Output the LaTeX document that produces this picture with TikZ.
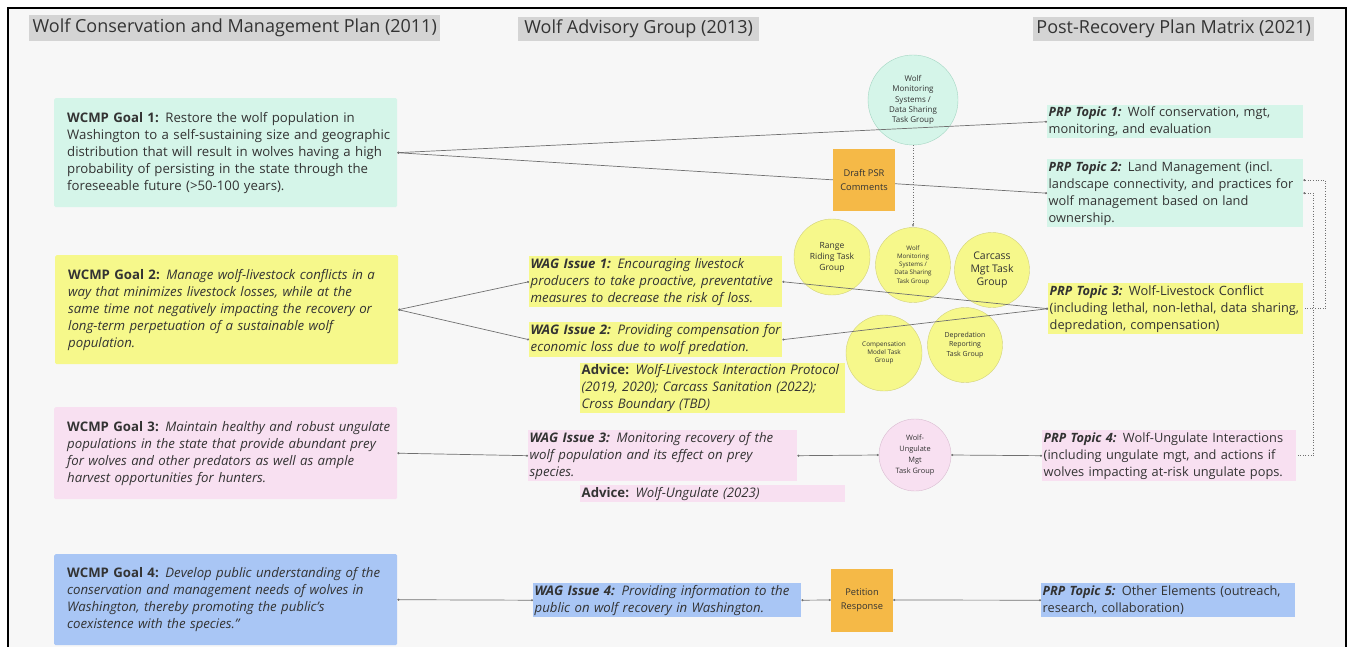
\documentclass[tikz,border=0pt]{standalone}
\usepackage{fontspec}
\setmainfont{Open Sans}
\usepackage{xcolor}
\usetikzlibrary{
	positioning,       %relative placement
	arrows.meta,       %arrow tips
	shapes.geometric
}
\definecolor{paper}{HTML}{F7F7F7}
\definecolor{hdrgray}{HTML}{D4D4D4}
\definecolor{mint}{HTML}{D5F5E9}
\definecolor{mintline}{HTML}{A3D6C2}
\definecolor{lemon}{HTML}{F6F88B}
\definecolor{lemonline}{HTML}{D2D27A}
\definecolor{blush}{HTML}{F8E0F1}
\definecolor{blushline}{HTML}{D9BCD1}
\definecolor{sky}{HTML}{A9C6F5}
\definecolor{amber}{HTML}{F5B947}
\definecolor{ink}{HTML}{333333}
\definecolor{wire}{HTML}{707070}
\tikzset{
	every picture/.style={
		>=latex,
		node distance=5mm and 5mm
}}
\newcommand{\bodyfont}{\fontsize{13.2}{17}\selectfont}
\newcommand{\topicfont}{\fontsize{12.8}{17}\selectfont}

\begin{document}
\begin{tikzpicture}[x=1pt,y=-1pt]
\tikzstyle{title}=[fill=hdrgray, text=ink, font=\fontsize{18}{20}\selectfont, inner sep=0pt, anchor=north west]
\tikzstyle{goal}=[rectangle, rounded corners=1.5pt, text=ink, anchor=north west, align=left, inner sep=0pt, text width=343pt, font=\bodyfont, execute at begin node={\leftskip=13pt\relax}]
\tikzstyle{hl}=[rectangle, text=ink, anchor=north west, align=left, inner sep=0pt, font=\bodyfont, execute at begin node={\leftskip=1.5pt\relax}]
\tikzstyle{slant}=[font=\bodyfont\itshape]
\tikzstyle{topic}=[hl, font=\topicfont]
\tikzstyle{tgroup}=[circle, fill=lemon, draw=lemonline, text=ink, align=center, inner sep=0pt]
\tikzstyle{action}=[rectangle, fill=amber, text=ink, align=center, inner sep=0pt, font=\fontsize{9.3}{13.5}\selectfont]
\tikzstyle{connect}=[{Circle[length=2pt]}-{Circle[length=2pt]}, wire, line width=0.7pt]
\tikzstyle{link}=[wire, dotted, line width=0.6pt]
\useasboundingbox (0,0) rectangle (1351,647);
\fill[white] (0,0) rectangle (1351,647);
\fill[paper] (8,8) rectangle (1346,647);
\draw[line width=2pt] (8,647) -- (8,8) -- (1346,8) -- (1346,647);
% column headers
\node[title, minimum width=411pt, minimum height=26pt] (hplan) at (29,15) {Wolf Conservation and Management Plan (2011)};
\node[title, minimum width=241pt, minimum height=24pt] (hwag) at (518,17) {Wolf Advisory Group (2013)};
\node[title, minimum width=281pt, minimum height=24pt] (hprp) at (1033,17) {Post-Recovery Plan Matrix (2021)};
% WCMP goals
\node[goal, fill=mint, minimum height=109pt] (g1) at (54,98) {\textbf{WCMP Goal 1:} Restore the wolf population in\\Washington to a self-sustaining size and geographic\\distribution that will result in wolves having a high\\probability of persisting in the state through the\\foreseeable future (>50-100 years).};
\node[goal, slant, fill=lemon, minimum height=109pt] (g2) at (55,255) {\textbf{\upshape WCMP Goal 2:} Manage wolf-livestock conflicts in a\\way that minimizes livestock losses, while at the\\same time not negatively impacting the recovery or\\long-term perpetuation of a sustainable wolf\\population.};
\node[goal, slant, fill=blush, minimum height=92pt] (g3) at (54,407) {\textbf{\upshape WCMP Goal 3:} Maintain healthy and robust ungulate\\populations in the state that provide abundant prey\\for wolves and other predators as well as ample\\harvest opportunities for hunters.};
\node[goal, slant, fill=sky, minimum height=91pt] (g4) at (54,554) {\textbf{\upshape WCMP Goal 4:} Develop public understanding of the\\conservation and management needs of wolves in\\Washington, thereby promoting the public's\\coexistence with the species.”};
% WAG issues and advice
\node[hl, slant, fill=lemon, text width=253pt, minimum height=51pt] (i1) at (529,256) {\textbf{WAG Issue 1:} Encouraging livestock\\producers to take proactive, preventative\\measures to decrease the risk of loss.};
\node[hl, slant, fill=lemon, text width=253pt, minimum height=35pt] (i2) at (529,322) {\textbf{WAG Issue 2:} Providing compensation for\\economic loss due to wolf predation.};
\node[hl, slant, fill=lemon, text width=265pt, minimum height=50pt] (a1) at (580,363) {\textbf{\upshape Advice:} Wolf-Livestock Interaction Protocol\\(2019, 2020); Carcass Sanitation (2022);\\Cross Boundary (TBD)};
\node[hl, slant, fill=blush, text width=269pt, minimum height=51pt] (i3) at (528,430) {\textbf{WAG Issue 3:} Monitoring recovery of the\\wolf population and its effect on prey\\species.};
\node[hl, slant, fill=blush, text width=265pt, minimum height=17pt] (a2) at (580,485) {\textbf{\upshape Advice:} Wolf-Ungulate (2023)};
\node[hl, slant, fill=sky, text width=268pt, minimum height=34pt] (i4) at (533,583) {\textbf{WAG Issue 4:} Providing information to the\\public on wolf recovery in Washington.};
% PRP topics
\node[topic, fill=mint, text width=256pt, minimum height=33pt] (t1) at (1047,105) {\textbf{\itshape PRP Topic 1:} Wolf conservation, mgt,\\monitoring, and evaluation};
\node[topic, fill=mint, text width=256pt, minimum height=68pt] (t2) at (1047,159) {\textbf{\itshape PRP Topic 2:} Land Management (incl.\\landscape connectivity, and practices for\\wolf management based on land\\ownership.};
\node[topic, fill=lemon, text width=255pt, minimum height=51pt] (t3) at (1048,283) {\textbf{\itshape PRP Topic 3:} Wolf-Livestock Conflict\\(including lethal, non-lethal, data sharing,\\depredation, compensation)};
\node[topic, fill=blush, text width=254pt, minimum height=51pt] (t4) at (1042,430) {\textbf{\itshape PRP Topic 4:} Wolf-Ungulate Interactions\\(including ungulate mgt, and actions if\\wolves impacting at-risk ungulate pops.};
\node[topic, fill=sky, text width=254pt, minimum height=34pt] (t5) at (1041,583) {\textbf{\itshape PRP Topic 5:} Other Elements (outreach,\\research, collaboration)};
% task groups
\node[tgroup, fill=mint, draw=mintline, minimum size=90pt, font=\fontsize{8}{10.4}\selectfont] (mon) at (913,100) {Wolf\\Monitoring\\Systems /\\Data Sharing\\Task Group};
\node[tgroup, minimum size=76pt, font=\fontsize{8.5}{11}\selectfont] (ride) at (832,257) {Range\\Riding Task\\Group};
\node[tgroup, minimum size=75pt, font=\fontsize{6.2}{8.3}\selectfont] (mony) at (913,265) {Wolf\\Monitoring\\Systems /\\Data Sharing\\Task Group};
\node[tgroup, minimum size=75pt, font=\fontsize{10.5}{13.3}\selectfont] (carc) at (992,270) {Carcass\\Mgt Task\\Group};
\node[tgroup, minimum size=76pt, font=\fontsize{6.4}{8.3}\selectfont] (comp) at (884,353) {Compensation\\Model Task\\Group};
\node[tgroup, minimum size=75pt, font=\fontsize{7}{9.3}\selectfont] (depr) at (965,345) {Depredation\\Reporting\\Task Group};
\node[tgroup, fill=blush, draw=blushline, minimum size=72pt, font=\fontsize{7.4}{10.8}\selectfont] (ung) at (915,455) {Wolf-\\Ungulate\\Mgt\\Task Group};
\node[action, minimum width=62pt, minimum height=63pt] (pet) at (862,600) {Petition\\Response};
% connectors
\draw[connect] (g1.east) -- (t1.west);
\draw[connect] (g1.east) -- (t2.west);
\draw[connect] (g2.east) -- (i1.west);
\draw[connect] (g2.east) -- (i2.west);
\draw[connect] (i1.east) -- (t3.west);
\draw[connect] (i2.east) -- (t3.west);
\draw[connect] (g3.east) -- (i3.west);
\draw[connect] (i3.east) -- (ung.west);
\draw[connect] (ung.east) -- (t4.west);
\draw[connect] (g4.east) -- (i4.west);
\draw[connect] (i4.east) -- (pet.west);
\draw[connect] (pet.east) -- (t5.west);
\draw[link, -{Latex[length=3pt]}] (mon.south) -- (mony.north);
\draw[link, {Circle[length=2pt]}-] ([yshift=13pt]t2.east) -- ++(22,0) |- (t3.east);
\draw[link, {Circle[length=2pt]}-] (t2.east) -- ++(10,0) |- (t4.east);
\node[action, minimum width=62pt, minimum height=61pt] (psr) at (864,180) {Draft PSR\\Comments};
\end{tikzpicture}
\end{document}
